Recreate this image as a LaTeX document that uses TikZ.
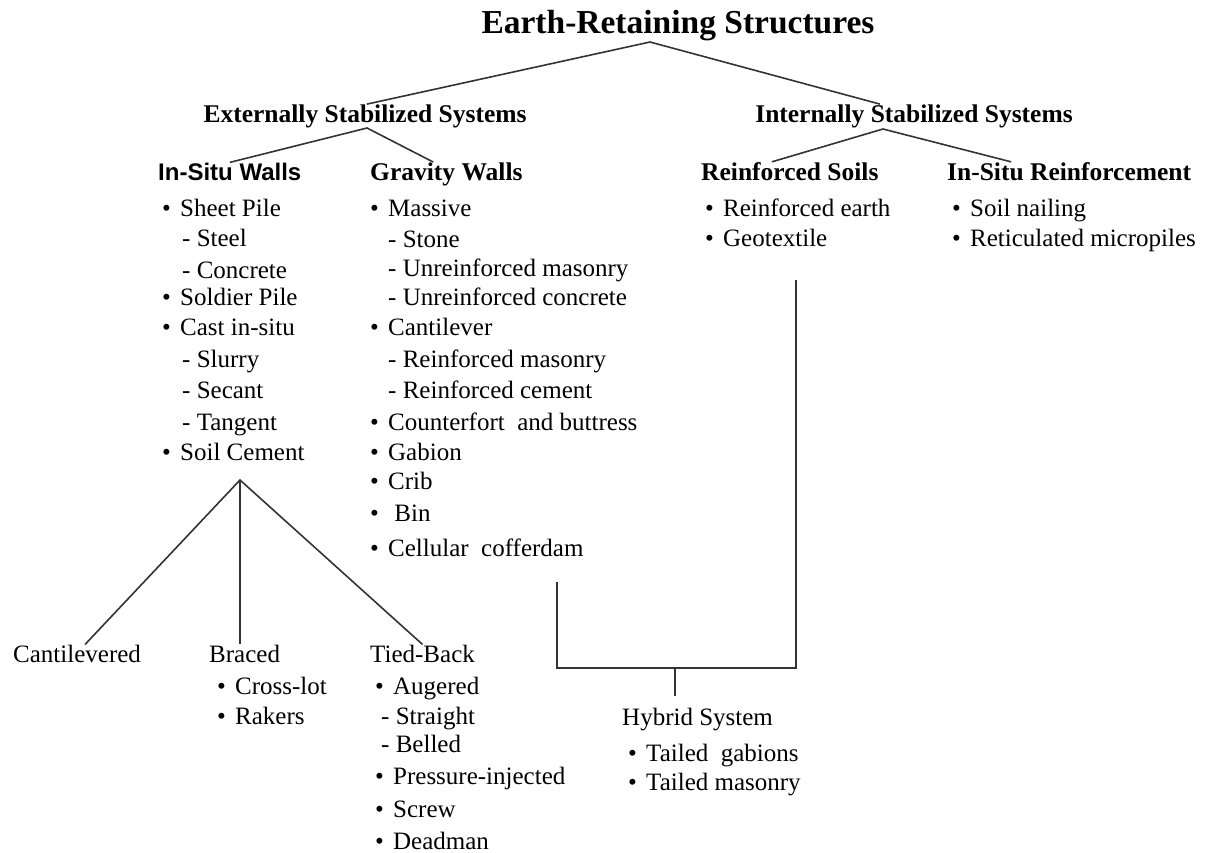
\documentclass[tikz,border=0pt]{standalone}
\usepackage{fontspec}
\setmainfont{Liberation Serif}
\newfontfamily\headsans{Liberation Sans}
\usepackage{tikz}
\usetikzlibrary{calc,positioning}

\newcommand{\bul}{\textbullet\hspace{0.37em}}

\tikzset{
  item/.style={anchor=base west,inner sep=0pt},
  head/.style={item,font=\fontsize{25.5}{30}\selectfont\bfseries},
  conn/.style={draw=black!80,line width=1.6pt}
}

\begin{document}
\begin{tikzpicture}[x=1pt,y=-1pt,font=\fontsize{25}{30}\selectfont]
  \useasboundingbox (0,0) rectangle (1211,852);

  % top levels
  \node[head,anchor=base,font=\fontsize{33.5}{40}\selectfont\bfseries] (title) at (678,33) {Earth-Retaining Structures};
  \node[head,anchor=base] (ext) at (365,122) {Externally Stabilized Systems};
  \node[head,anchor=base] (int) at (914,122) {Internally Stabilized Systems};

  \node[head,font=\fontsize{24}{30}\selectfont\headsans\bfseries] (isw) at (158,180) {In-Situ Walls};
  \node[head] (grav) at (370,180) {Gravity Walls};
  \node[head] (rs) at (701,180) {Reinforced Soils};
  \node[head] (isr) at (947,180) {In-Situ Reinforcement};

  % in-situ walls
  \foreach \t/\y [count=\i] in {Sheet Pile/216,Soldier Pile/305,Cast in-situ/335,Soil Cement/460}
    \node[item] (isw-b\i) at (162,\y) {\bul\t};
  \foreach \t/\y [count=\i] in {Steel/246,Concrete/278,Slurry/367,Secant/398,Tangent/430}
    \node[item] (isw-d\i) at (182,\y) {- \t};

  % gravity walls
  \foreach \t/\y [count=\i] in {Massive/216,Cantilever/335,Counterfort\ \ and buttress/430,
      Gabion/460,Crib/489,\ Bin/521,Cellular\ \ cofferdam/556}
    \node[item] (grav-b\i) at (370,\y) {\bul\t};
  \foreach \t/\y [count=\i] in {Stone/247,Unreinforced masonry/276,Unreinforced concrete/305,
      Reinforced masonry/367,Reinforced cement/398}
    \node[item] (grav-d\i) at (388,\y) {- \t};

  % internally stabilized
  \foreach \t/\y [count=\i] in {Reinforced earth/216,Geotextile/246}
    \node[item] (rs-b\i) at (705,\y) {\bul\t};
  \foreach \t/\y [count=\i] in {Soil nailing/216,Reticulated micropiles/246}
    \node[item] (isr-b\i) at (952,\y) {\bul\t};

  % soil cement walls
  \node[item] (cant) at (13,662) {Cantilevered};
  \node[item] (braced) at (209,662) {Braced};
  \node[item] (tb) at (370,662) {Tied-Back};
  \foreach \t/\y [count=\i] in {Cross-lot/694,Rakers/724}
    \node[item] (braced-b\i) at (217,\y) {\bul\t};
  \foreach \t/\y [count=\i] in {Augered/694,Pressure-injected/784,Screw/817,Deadman/849}
    \node[item] (tb-b\i) at (375,\y) {\bul\t};
  \foreach \t/\y [count=\i] in {Straight/724,Belled/752}
    \node[item] (tb-d\i) at (381,\y) {- \t};

  % hybrid
  \node[item] (hyb) at (622,725) {Hybrid System};
  \node[item] (hyb-b1) at (628,761) {\bul Tailed\ \ gabions};
  \node[item] (hyb-b2) at (628,790) {\bul Tailed masonry};

  % forks
  \coordinate (top-v) at (650,42);
  \coordinate (ext-v) at (367,128);
  \coordinate (int-v) at (883,129);
  \coordinate (sc-v) at (240,480);
  \draw[conn] ([xshift=2pt]ext.north) -- (top-v) -- ([xshift=-34pt]int.north);
  \draw[conn] (isw.north) -- (ext-v) -- ([xshift=-13pt]grav.north);
  \draw[conn] ([xshift=-18pt]rs.north) -- (int-v) -- ([xshift=-58pt]isr.north);
  \draw[conn] ([xshift=8pt]cant.north) -- (sc-v) -- (tb.north);
  \draw[conn] (sc-v) -- (sc-v |- braced.north);

  % hybrid bracket
  \coordinate (hyb-l) at (557,582);
  \coordinate (hyb-r) at (796,280);
  \coordinate (hyb-j) at (675,668);
  \draw[conn] (hyb-l) |- (hyb-j) -| (hyb-r);
  \draw[conn] (hyb-j) -- ([yshift=11pt]hyb.north -| hyb-j);
\end{tikzpicture}
\end{document}
